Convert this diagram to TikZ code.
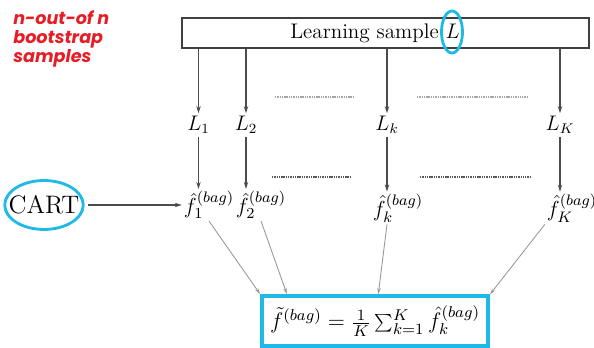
\documentclass[tikz,border=0pt]{standalone}
\usepackage{fix-cm}
\usepackage{fontspec}
\newfontfamily\notefont{Poppins}
\usetikzlibrary{arrows.meta,shapes.geometric}
\definecolor{ringblue}{RGB}{30,185,230}
\definecolor{notered}{RGB}{232,28,36}

\begin{document}
\begin{tikzpicture}[
  sample/.style  = {draw=black!75, line width=0.8pt, inner sep=0pt,
                    minimum width=81.4mm, minimum height=6mm},
  title/.style   = {font=\large, inner sep=0pt},
  lbl/.style     = {font=\large, inner sep=1.5pt},
  est/.style     = {font=\fontsize{12.4}{15}\selectfont, inner sep=1pt},
  ring/.style    = {draw=ringblue, line width=1.6pt, ellipse, inner sep=0pt},
                     % the blue rings are marks put on the slide, not part of the tree
  down/.style    = {black!70, line width=0.6pt, -{Stealth[length=4pt,width=2.5pt]}},
  feed/.style    = {black!40, line width=0.5pt, -{Stealth[length=3.5pt,width=2pt]}},
  gap/.style     = {line width=0.6pt, dash pattern=on 0.8pt off 0.5pt},
  result/.style  = {draw=ringblue, line width=2.2pt, font=\fontsize{12.8}{15}\selectfont,
                    minimum width=45.2mm, minimum height=10mm},
  note/.style    = {font=\notefont\bfseries\itshape\fontsize{10}{11}\selectfont,
                    text=notered, align=left, anchor=north west, inner sep=0pt},
]
  \useasboundingbox (0,0) rectangle (11.88,6.96);

  \node[note] (note) at (0.26,6.76) {n-out-of n\\bootstrap\\samples};

  \node[sample] (sample) at (7.71,6.30) {};
  \node[title] (stitle) at (7.50,6.30) {Learning sample $L$};
  \node[ring, minimum width=4.2mm, minimum height=8.4mm] (ringL) at (9.04,6.32) {};

  % the K bootstrap samples
  \node[lbl] (l1) at (3.97,4.46) {$L_1$};
  \node[lbl] (l2) at (4.92,4.46) {$L_2$};
  \node[lbl] (lk) at (7.74,4.46) {$L_k$};
  \node[lbl] (lK) at (11.20,4.46) {$L_K$};

  % one tree grown on each sample
  \node[est] (f1) at (4.18,2.86) {$\hat f_1^{(bag)}$};
  \node[est] (f2) at (5.22,2.86) {$\hat f_2^{(bag)}$};
  \node[est] (fk) at (7.96,2.80) {$\hat f_k^{(bag)}$};
  \node[est] (fK) at (11.44,2.80) {$\hat f_K^{(bag)}$};

  \node[ring, inner xsep=-1.5mm, inner ysep=1.6mm, font=\Large] (cart) at (0.88,2.86) {CART};

  \draw[down] (sample.south -| l1) -- (l1);
  \draw[down] (sample.south -| l2) -- (l2);
  \draw[down] (sample.south -| lk) -- (lk);
  \draw[down] (sample.south -| lK) -- (lK);

  \draw[down] (l1) -- (l1 |- f1.north);
  \draw[down] (l2) -- (l2 |- f2.north);
  \draw[down] (lk) -- (lk |- fk.north);
  \draw[down] (lK) -- (lK |- fK.north);

  \draw[down, shorten <=2pt] (cart.east) -- (f1.west |- cart.east);

  % the samples left out between 2 and k, and between k and K
  \draw[gap, black!35] (5.50,5.02) -- (7.06,5.02);
  \draw[gap, black!35] (8.34,5.02) -- (10.54,5.02);
  \draw[gap, black!65] (5.44,3.42) -- (7.00,3.42);
  \draw[gap, black!65] (8.40,3.42) -- (10.60,3.42);

  \node[result] (sum) at (7.50,0.54)
    {$\tilde f^{(bag)} = \frac{1}{K}\sum_{k=1}^{K}\hat f_k^{(bag)}$};

  \draw[feed] (f1.south) -- (sum.north west);
  \draw[feed] (f2.south) -- (sum.163);
  \draw[feed] (fk.south -| lk) -- (sum.83);
  \draw[feed] (fK.south west) -- (sum.13);
\end{tikzpicture}
\end{document}
